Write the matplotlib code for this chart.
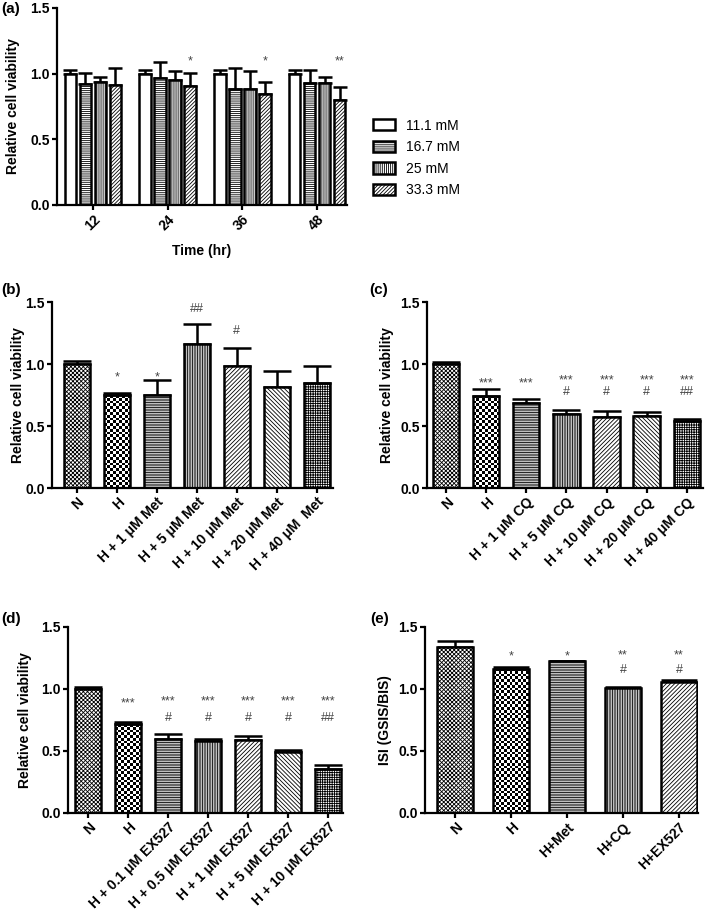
import numpy as np
import matplotlib
matplotlib.use("Agg")
import matplotlib.pyplot as plt
from matplotlib.patches import Patch
from matplotlib.transforms import offset_copy

plt.rcParams['font.family'] = ['Liberation Sans', 'DejaVu Sans']
plt.rcParams['font.weight'] = 'bold'
plt.rcParams['hatch.linewidth'] = 0.6

# --- data ---
# (a) time course, 4 glucose concentrations
a_times = ["12", "24", "36", "48"]
a_glucose = ["11.1 mM", "16.7 mM", "25 mM", "33.3 mM"]
a_means = [[1.00, 0.925, 0.94, 0.91],
           [1.00, 0.97, 0.95, 0.905],
           [1.00, 0.88, 0.88, 0.845],
           [1.00, 0.93, 0.93, 0.80]]
a_err = [[0.03, 0.08, 0.035, 0.13],
         [0.03, 0.12, 0.07, 0.10],
         [0.03, 0.16, 0.14, 0.09],
         [0.03, 0.10, 0.045, 0.10]]
a_marks = ["", "*", "*", "**"]          # over the 33.3 mM bars

# (b) metformin
b_labels = ["N", "H", "H + 1 μM Met", "H + 5 μM Met", "H + 10 μM Met",
            "H + 20 μM Met", "H + 40 μM  Met"]
b_means = [1.00, 0.75, 0.75, 1.16, 0.98, 0.815, 0.845]
b_err = [0.025, 0.015, 0.12, 0.16, 0.15, 0.13, 0.135]
b_marks = ["", "*", "*", "##", "#", "", ""]
b_mark_y = [0, 0.925, 0.925, 1.453, 1.277, 0, 0]

# (c) chloroquine
c_labels = ["N", "H", "H + 1 μM CQ", "H + 5 μM CQ", "H + 10 μM CQ",
            "H + 20 μM CQ", "H + 40 μM CQ"]
c_means = [1.00, 0.745, 0.685, 0.60, 0.575, 0.58, 0.54]
c_err = [0.02, 0.055, 0.03, 0.03, 0.05, 0.03, 0.015]
c_stars = ["", "***", "***", "***", "***", "***", "***"]
c_hashes = ["", "", "", "#", "#", "#", "##"]

# (d) EX527
d_labels = ["N", "H", "H + 0.1 μM EX527", "H + 0.5 μM EX527",
            "H + 1 μM EX527", "H + 5 μM EX527", "H + 10 μM EX527"]
d_means = [1.00, 0.715, 0.594, 0.58, 0.588, 0.49, 0.353]
d_err = [0.02, 0.02, 0.045, 0.02, 0.03, 0.02, 0.035]
d_stars = ["", "***", "***", "***", "***", "***", "***"]
d_hashes = ["", "", "#", "#", "#", "#", "##"]

# (e) insulin secretion index
e_labels = ["N", "H", "H+Met", "H+CQ", "H+EX527"]
e_means = [1.34, 1.163, 1.222, 1.005, 1.06]
e_err = [0.05, 0.013, 0.005, 0.01, 0.013]
e_stars = ["", "*", "*", "**", "**"]
e_hashes = ["", "", "", "#", "#"]

patterns = ["x" * 8, "checker", "-" * 10, "|" * 10, "/" * 8, "\\" * 8,
            "+" * 7]
a_patterns = ["", "-" * 8, "|" * 8, "/" * 9]

W, H = 709, 916
fig = plt.figure(figsize=(W / 100, H / 100), dpi=100)
LW = 1.8
MARK_SIZE = 9


def rect(l, r, t, b):
    return [l / W, 1 - b / H, (r - l) / W, (b - t) / H]


def style(ax, xlim, ylabel, lab_x):
    ax.set_xlim(*xlim)
    ax.set_ylim(0, 1.5)
    ax.set_yticks([0, 0.5, 1.0, 1.5])
    ax.set_yticklabels(["0.0", "0.5", "1.0", "1.5"])
    for s in ["top", "right"]:
        ax.spines[s].set_visible(False)
    for s in ["left", "bottom"]:
        ax.spines[s].set_linewidth(1.6)
    ax.tick_params(direction="out", length=3.6, width=1.6, labelsize=10, pad=1.5)
    ax.set_ylabel(ylabel, fontsize=10, fontweight="bold")
    ax.yaxis.set_label_coords(lab_x, 0.5)


def checker(ax, bar, cell_px=2.8):
    x0, y0 = bar.get_x(), bar.get_y()
    w, h = bar.get_width(), bar.get_height()
    p0 = ax.transData.transform((x0, y0))
    p1 = ax.transData.transform((x0 + w, y0 + h))
    nx = max(1, int(round((p1[0] - p0[0]) / cell_px)))
    ny = max(1, int(round((p1[1] - p0[1]) / cell_px)))
    grid = np.add.outer(np.arange(ny), np.arange(nx)) % 2
    im = ax.imshow(grid, cmap="gray", extent=(x0, x0 + w, y0, y0 + h),
                   origin="lower", aspect="auto", interpolation="nearest",
                   zorder=1)
    im.set_clip_path(bar)


def bar_panel(ax, labels, means, err, width, capsize, xlim, ylabel, lab_x):
    style(ax, xlim, ylabel, lab_x)
    x = np.arange(len(labels))
    ax.errorbar(x, means, yerr=[np.zeros(len(x)), err], fmt="none",
                ecolor="black", elinewidth=LW, capsize=capsize,
                capthick=LW, zorder=1.5)
    bars = ax.bar(x, means, width=width, color="white", edgecolor="black",
                  linewidth=LW, zorder=2)
    for i, b in enumerate(bars):
        p = patterns[i]
        if p == "checker":
            b.set_facecolor("none")
            checker(ax, b)
        else:
            b.set_hatch(p)
    ax.set_xlim(*xlim)
    ax.set_ylim(0, 1.5)
    ax.set_xticks(x)
    ax.set_xticklabels(labels, rotation=45, ha="right",
                       rotation_mode="anchor", fontsize=10)
    return x


def put_mark(ax, xi, y, t, ls=1.0):
    # y is the visual centre of the last line's glyphs; anchor on its baseline
    last = t.split("\n")[-1]
    off = (0.59 if last.startswith("*") else 0.36) * MARK_SIZE
    tr = offset_copy(ax.transData, fig=fig, y=-off, units="points")
    ax.text(xi, y, t, ha="center", va="baseline", fontsize=MARK_SIZE,
            fontweight="normal", color="#444444", transform=tr,
            multialignment="center", linespacing=ls)


def marks(ax, x, texts, ys):
    for xi, t, y in zip(x, texts, ys):
        if t:
            put_mark(ax, xi, y, t)


def stacked_marks(ax, x, stars, hashes, y_star, y_hash, ls):
    # significance stars with the # row directly beneath, as one text
    for xi, s, h in zip(x, stars, hashes):
        if s and h:
            put_mark(ax, xi, y_hash, s + "\n" + h, ls)
        elif s:
            put_mark(ax, xi, y_star, s)
        elif h:
            put_mark(ax, xi, y_hash, h)


# --- panel (a) ---
ax = fig.add_axes(rect(57, 347, 8, 205))
style(ax, (-0.48, 3.4), "Relative cell viability", -0.128)
xa = np.arange(len(a_times))
means = np.array(a_means)
errs = np.array(a_err)
step = 0.2
for j, conc in enumerate(a_glucose):
    xs = xa + (j - 1.5) * step
    ax.errorbar(xs, means[:, j], yerr=[np.zeros(len(xa)), errs[:, j]],
                fmt="none", ecolor="black", elinewidth=LW, capsize=5,
                capthick=LW, zorder=1.5)
    ax.bar(xs, means[:, j], width=0.155, color="white", edgecolor="black",
           linewidth=LW, hatch=a_patterns[j], zorder=2)
marks(ax, xa + 1.5 * step, a_marks, [1.13] * len(xa))
ax.set_xticks(xa)
ax.set_xticklabels(a_times, rotation=45, ha="right", rotation_mode="anchor",
                   fontsize=10)
ax.set_xlabel("Time (hr)", fontsize=10, fontweight="bold")
ax.xaxis.set_label_coords(0.5, -0.2)
ax.xaxis.label.set_va("top")

handles = [Patch(facecolor="white", edgecolor="black", linewidth=LW,
                 hatch=a_patterns[j], label=g) for j, g in enumerate(a_glucose)]
fig.legend(handles=handles, loc="upper left",
           bbox_to_anchor=(360 / W, 1 - 106 / H), frameon=False,
           prop={"weight": "normal", "size": 10}, handlelength=1.6,
           handleheight=0.85, labelspacing=0.55, handletextpad=0.8)

# --- panel (b) ---
ax = fig.add_axes(rect(52, 333, 302, 488))
xb = bar_panel(ax, b_labels, b_means, b_err, 0.66, 10, (-0.62, 6.4),
               "Relative cell viability", -0.095)
marks(ax, xb, b_marks, b_mark_y)

# --- panel (c) ---
ax = fig.add_axes(rect(427, 703, 302, 488))
xc = bar_panel(ax, c_labels, c_means, c_err, 0.66, 10, (-0.47, 6.4),
               "Relative cell viability", -0.12)
stacked_marks(ax, xc, c_stars, c_hashes, 0.877, 0.787, 0.98)

# --- panel (d) ---
ax = fig.add_axes(rect(68, 343, 627, 813))
xd = bar_panel(ax, d_labels, d_means, d_err, 0.66, 10, (-0.5, 6.375),
               "Relative cell viability", -0.131)
stacked_marks(ax, xd, d_stars, d_hashes, 0.92, 0.775, 1.59)

# --- panel (e) ---
ax = fig.add_axes(rect(425, 698, 627, 813))
xe = bar_panel(ax, e_labels, e_means, e_err, 0.64, 13, (-0.54, 4.34),
               "ISI (GSIS/BIS)", -0.121)
stacked_marks(ax, xe, e_stars, e_hashes, 1.297, 1.168, 1.26)

# panel letters
for lab, px, py in [("(a)", 1, 2), ("(b)", 1, 283), ("(c)", 369, 283),
                    ("(d)", 1, 612), ("(e)", 370, 612)]:
    fig.text(px / W, 1 - py / H, lab, ha="left", va="top", fontsize=11,
             fontweight="bold")

fig.savefig("out.png", dpi=100)
